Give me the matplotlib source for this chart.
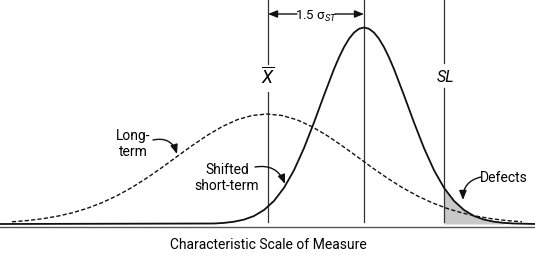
import matplotlib
matplotlib.use("Agg")
import matplotlib.pyplot as plt
from matplotlib import font_manager

# ---------------- data ----------------
# horizontal positions on the measurement scale, heights above the baseline
short_term_x = [0, 214, 224, 234, 244, 254, 264, 274, 284, 294, 304, 314, 324,
                334, 339, 344, 349, 354, 359, 364, 369, 374, 379, 384, 389, 394,
                404, 414, 424, 434, 444, 454, 464, 474, 484, 494, 504, 514, 535]
short_term_y = [0, 0.5, 1.1, 2.3, 4.4, 8.0, 14.0, 23.1, 36.2, 53.8, 75.9, 101.5,
                128.7, 154.9, 166.6, 176.8, 185.2, 191.4, 195.2, 196.5, 195.2,
                191.4, 185.2, 176.8, 166.6, 154.9, 128.7, 101.5, 75.9, 53.8, 36.2,
                23.1, 14.0, 8.0, 4.4, 2.3, 1.1, 0.5, 0]

long_term_x = [12, 27, 42, 57, 72, 87, 102, 117, 132, 147, 162, 177, 192, 207,
               222, 237, 252, 267, 282, 297, 312, 327, 342, 357, 372, 387, 402,
               417, 432, 447, 462, 477, 492, 507, 522]
long_term_y = [2.2, 3.4, 5.2, 7.7, 11.1, 15.6, 21.3, 28.3, 36.6, 46.1, 56.5, 67.5,
               78.3, 88.5, 97.3, 104.2, 108.5, 110.0, 108.5, 104.2, 97.3, 88.5,
               78.3, 67.5, 56.5, 46.1, 36.6, 28.3, 21.3, 15.6, 11.1, 7.7, 5.2,
               3.4, 2.2]

x_bar = 268          # long-term mean
mu_short = 364       # shifted short-term mean
spec_limit = 444     # SL

axis_title = "Characteristic Scale of Measure"
shift_label = "1.5 σ$_{ST}$"

# ---------------- fonts ----------------
names = {f.name for f in font_manager.fontManager.ttflist}
fam = ["Liberation Sans Narrow", "Roboto", "Liberation Sans", "DejaVu Sans"]
fam = [f for f in fam if f in names] + ["DejaVu Sans"]
plt.rcParams["font.family"] = fam
plt.rcParams["mathtext.fontset"] = "custom"
plt.rcParams["mathtext.rm"] = fam[0]
plt.rcParams["mathtext.it"] = fam[0] + ":italic"

fig = plt.figure(figsize=(5.35, 2.59), dpi=100)
ax = fig.add_axes([0, 0, 1, 1])
ax.set_xlim(0, 535)
ax.set_ylim(-35, 224)
ax.axis("off")

# defects shading
fx = [x for x in short_term_x if x >= spec_limit and x <= 504]
fy = [y for x, y in zip(short_term_x, short_term_y) if x >= spec_limit and x <= 504]
ax.fill_between(fx, 0, fy, color="#c8c8c8", lw=0, zorder=1)

# curves
ax.plot(long_term_x, long_term_y, color="#111111", lw=1.0,
        linestyle=(0, (3.0, 1.6)), zorder=3)
ax.plot(short_term_x, short_term_y, color="#111111", lw=1.3, zorder=4,
        solid_capstyle="butt")
# lower axis line
ax.plot([0, 535], [-3.2, -3.2], color="#555555", lw=1.0, zorder=2)

# vertical reference lines
vc = "#333333"
vlw = 0.9
ax.plot([x_bar, x_bar], [224, 160], color=vc, lw=vlw)
ax.plot([x_bar, x_bar], [132, 2], color=vc, lw=vlw)
ax.plot([mu_short, mu_short], [224, 2], color=vc, lw=vlw)
ax.plot([spec_limit, spec_limit], [224, 161], color=vc, lw=vlw)
ax.plot([spec_limit, spec_limit], [136, 2], color=vc, lw=vlw)

ax.text(x_bar, 147, r"$\overline{X}$", ha="center", va="center", fontsize=13)
ax.text(spec_limit + 1, 147, "SL", ha="center", va="center", fontsize=11.5,
        style="italic")

# dimension arrows
ax.text((x_bar + mu_short) / 2, 208, shift_label, ha="center", va="center",
        fontsize=9.5)
ap = dict(arrowstyle="-|>,head_length=0.55,head_width=0.22", color="#111111",
          lw=1.0, shrinkA=0, shrinkB=0)
ax.annotate("", xy=(x_bar, 210), xytext=(297, 210), arrowprops=ap)
ax.annotate("", xy=(mu_short, 210), xytext=(335, 210), arrowprops=ap)

# labels with curved arrows
fs = 10
ax.text(133, 80, "Long-\nterm", ha="center", va="center", fontsize=fs,
        linespacing=1.25)
ax.text(227, 46, "Shifted\nshort-term", ha="center", va="center", fontsize=fs,
        linespacing=1.25)
ax.text(504, 46.5, "Defects", ha="center", va="center", fontsize=fs)

def carrow(start, end, rad):
    a = dict(ap)
    a["connectionstyle"] = f"arc3,rad={rad}"
    ax.annotate("", xy=end, xytext=start, arrowprops=a)

carrow((153, 84), (177, 70), -0.45)
carrow((255, 57), (285, 40), -0.4)
carrow((481, 47), (463, 24), 0.4)

ax.text(268, -21, axis_title, ha="center", va="center", fontsize=10)

fig.savefig("out.png", dpi=100)
